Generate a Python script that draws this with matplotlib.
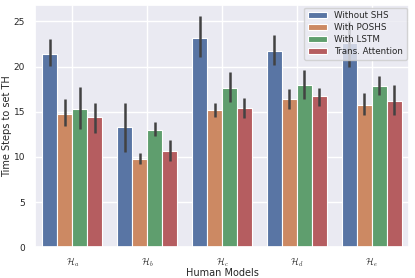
import colorsys
import numpy as np
import matplotlib
matplotlib.use("Agg")
import matplotlib.pyplot as plt
import matplotlib.colors as mcolors
import seaborn as sns

sns.set_theme(style="darkgrid")
plt.rcParams['font.family'] = ['DejaVu Sans']
plt.rcParams['mathtext.fontset'] = 'cm'

models = [r'$\mathcal{H}_a$', r'$\mathcal{H}_b$', r'$\mathcal{H}_c$', r'$\mathcal{H}_d$', r'$\mathcal{H}_e$']
methods = ['Without SHS', 'With POSHS', 'With LSTM', 'Trans. Attention']

# mean values per method (one entry per human model)
without_shs = [21.4, 13.35, 23.15, 21.7, 22.6]
with_poshs = [14.75, 9.8, 15.15, 16.4, 15.7]
with_lstm = [15.35, 13.0, 17.65, 18.0, 17.85]
trans_att = [14.45, 10.7, 15.45, 16.75, 16.2]

# confidence interval bounds
without_shs_lo = [20.05, 10.6, 21.0, 20.2, 20.0]
without_shs_hi = [23.0, 16.0, 25.6, 23.5, 25.0]
with_poshs_lo = [13.4, 9.25, 14.4, 15.3, 14.6]
with_poshs_hi = [16.4, 10.45, 16.0, 17.5, 17.05]
with_lstm_lo = [13.1, 12.3, 16.1, 16.4, 16.9]
with_lstm_hi = [17.7, 13.9, 19.4, 19.65, 18.9]
trans_att_lo = [12.7, 9.6, 14.3, 15.65, 14.6]
trans_att_hi = [16.0, 11.85, 16.55, 17.65, 17.95]

means = [without_shs, with_poshs, with_lstm, trans_att]
lows = [without_shs_lo, with_poshs_lo, with_lstm_lo, trans_att_lo]
highs = [without_shs_hi, with_poshs_hi, with_lstm_hi, trans_att_hi]


def desat(c, prop=0.75):
    r, g, b = mcolors.to_rgb(c)
    h, l, s = colorsys.rgb_to_hls(r, g, b)
    return colorsys.hls_to_rgb(h, l, s * prop)


colors = [desat(c) for c in sns.color_palette("deep")[:4]]

fig = plt.figure(figsize=(4.15, 2.78), dpi=100)
ax = fig.add_axes([0.084, 0.11, 0.902, 0.872])

x = np.arange(len(models))
w = 0.2
for i in range(len(methods)):
    pos = x - 0.3 + i * w
    ax.bar(pos, means[i], width=w, color=colors[i], edgecolor='white',
           linewidth=0.8, label=methods[i], zorder=2)
    ax.vlines(pos, lows[i], highs[i], color='#424242', linewidth=1.8, zorder=3)

ax.set_xlim(-0.5, 4.5)
ax.set_ylim(0, 26.8)
ax.set_yticks([0, 5, 10, 15, 20, 25])
ax.set_xticks(x)
ax.set_xticklabels(models, fontsize=6.5)
ax.tick_params(axis='y', labelsize=6.5, pad=1)
ax.tick_params(axis='x', pad=0)
ax.set_xlabel('Human Models', fontsize=7, labelpad=-1)
ax.set_ylabel('Time Steps to set TH', fontsize=7, labelpad=1)
ax.legend(loc='upper right', fontsize=6.3, frameon=True, handlelength=2.2,
          borderaxespad=0.3, labelspacing=0.35)

fig.savefig('out.png', dpi=100)
